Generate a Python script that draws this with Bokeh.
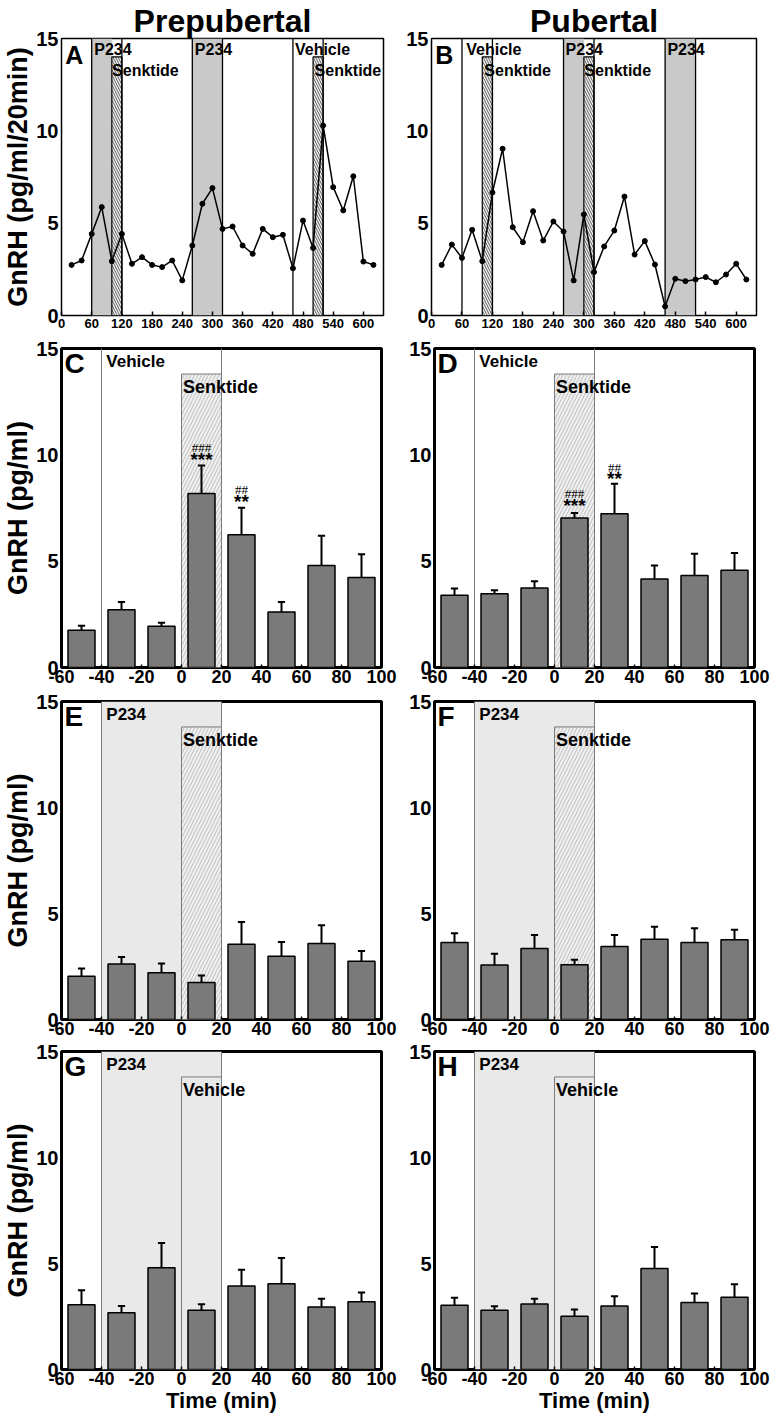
from bokeh.plotting import figure
from bokeh.layouts import column, row
from bokeh.models import FixedTicker, Range1d
from bokeh.core.properties import value
from bokeh.embed import file_html
from bokeh.resources import INLINE

FONT = "Liberation Sans"

# ---------------- data ----------------
time_course = [20, 40, 60, 80, 100, 120, 140, 160, 180, 200, 220, 240, 260, 280, 300, 320,
               340, 360, 380, 400, 420, 440, 460, 480, 500, 520, 540, 560, 580, 600, 620]
gnrh_prepubertal = [2.74, 2.98, 4.42, 5.87, 2.94, 4.42, 2.80, 3.16, 2.74, 2.62, 2.98, 1.90,
                    3.79, 6.05, 6.90, 4.69, 4.82, 3.79, 3.34, 4.69, 4.24, 4.37, 2.56, 5.14,
                    3.66, 10.29, 6.95, 5.69, 7.54, 2.92, 2.74]
gnrh_pubertal = [2.74, 3.84, 3.12, 4.64, 2.94, 6.66, 9.03, 4.78, 3.97, 5.65, 4.06, 5.09,
                 4.55, 1.90, 5.47, 2.35, 3.74, 4.60, 6.44, 3.30, 4.03, 2.76, 0.49, 1.99,
                 1.86, 1.95, 2.08, 1.80, 2.22, 2.80, 1.95]
time_ticks_a = [0, 60, 120, 180, 240, 300, 360, 420, 480, 540, 600]

bar_time = [-50, -30, -10, 10, 30, 50, 70, 90]
time_ticks_bar = [-60, -40, -20, 0, 20, 40, 60, 80, 100]
y_ticks = [0, 5, 10, 15]

c_mean = [1.75, 2.72, 1.94, 8.18, 6.24, 2.61, 4.80, 4.23]
c_sem = [0.21, 0.36, 0.16, 1.32, 1.27, 0.47, 1.40, 1.09]
d_mean = [3.40, 3.47, 3.74, 7.03, 7.23, 4.16, 4.33, 4.57]
d_sem = [0.31, 0.16, 0.31, 0.23, 1.41, 0.64, 1.02, 0.81]
e_mean = [2.04, 2.62, 2.20, 1.74, 3.55, 2.98, 3.58, 2.75]
e_sem = [0.36, 0.33, 0.44, 0.33, 1.05, 0.68, 0.86, 0.48]
f_mean = [3.63, 2.57, 3.35, 2.58, 3.44, 3.79, 3.63, 3.76]
f_sem = [0.44, 0.53, 0.64, 0.24, 0.55, 0.59, 0.67, 0.47]
g_mean = [3.06, 2.68, 4.80, 2.79, 3.94, 4.05, 2.95, 3.19]
g_sem = [0.68, 0.32, 1.17, 0.29, 0.77, 1.21, 0.39, 0.44]
h_mean = [3.03, 2.79, 3.09, 2.51, 3.00, 4.77, 3.16, 3.41]
h_sem = [0.35, 0.19, 0.25, 0.32, 0.45, 1.01, 0.42, 0.61]

# treatment windows (time-course panels)
a_gray = [(60, 100), (260, 320)]
a_hatch = [(100, 120), (500, 520)]
a_lines = [60, 120, 260, 320, 460, 520]
a_labels = [("P234", 65, 14.4), ("Senktide", 100.5, 13.27), ("P234", 265, 14.4),
            ("Vehicle", 464, 14.4), ("Senktide", 503, 13.27)]
b_gray = [(260, 300), (460, 520)]
b_hatch = [(100, 120), (300, 320)]
b_lines = [60, 120, 260, 320, 460, 520]
b_labels = [("Vehicle", 68.5, 14.4), ("Senktide", 104, 13.27), ("P234", 264, 14.4),
            ("Senktide", 301, 13.27), ("P234", 464.5, 14.4)]


def base_fig(w, h, bl, br, bt, bb, xr, yr, outline_w):
    p = figure(width=w, height=h, x_range=Range1d(*xr), y_range=Range1d(*yr),
               output_backend="svg", toolbar_location=None,
               min_border_left=bl, min_border_right=br, min_border_top=bt, min_border_bottom=bb)
    p.grid.visible = False
    p.outline_line_color = "black"
    p.outline_line_width = outline_w
    p.outline_line_alpha = 1
    for ax in (p.xaxis, p.yaxis):
        ax.axis_line_color = None
        ax.minor_tick_line_color = None
        ax.major_label_text_font = FONT
        ax.major_label_text_font_style = "bold"
        ax.major_label_text_color = "black"
        ax.axis_label_text_font = FONT
        ax.axis_label_text_font_style = "bold"
        ax.axis_label_text_color = "black"
    p.yaxis.ticker = FixedTicker(ticks=y_ticks)
    p.yaxis.major_tick_in = 0
    p.yaxis.major_tick_out = 0
    p.yaxis.major_label_text_font_size = "20px"
    p.yaxis.major_label_standoff = 3
    p.xaxis.major_tick_out = 0
    p.xaxis.major_tick_line_color = "black"
    p.xaxis.major_tick_line_width = 1.5
    return p


def add_texts(p, texts, size):
    p.text(x=[t[1] for t in texts], y=[t[2] for t in texts], text=[t[0] for t in texts],
           text_font=value(FONT), text_font_style="bold", text_font_size=size,
           text_baseline="middle", text_align="left", text_color="black")


def set_ylabel(p, text):
    p.yaxis.axis_label = text
    p.yaxis.axis_label_text_font_size = "27px"
    p.yaxis.axis_label_standoff = 0


def set_title(p, text):
    p.title.text = text
    p.title.align = "center"
    p.title.text_font = FONT
    p.title.text_font_style = "bold"
    p.title.text_font_size = "32px"
    p.title.text_color = "black"
    p.title.standoff = 0


def time_course_fig(series, gray, hatch, lines, labels, letter, left):
    if left:
        p = base_fig(400, 338, 60, 17, 38, 23, (0, 640), (0, 15), 1.5)
    else:
        p = base_fig(371, 338, 31, 15, 38, 23, (0, 640), (0, 15), 1.5)
    p.xaxis.ticker = FixedTicker(ticks=time_ticks_a)
    p.xaxis.major_label_text_font_size = "13px"
    p.xaxis.major_label_standoff = 3
    p.xaxis.major_tick_in = 4
    p.quad(left=[g[0] for g in gray], right=[g[1] for g in gray], bottom=0, top=15,
           fill_color="#c9c9c9", line_color=None)
    p.quad(left=[g[0] for g in hatch], right=[g[1] for g in hatch], bottom=0, top=14,
           fill_color="#f4f4f4", hatch_pattern="\\", hatch_color="#333333",
           hatch_scale=5, hatch_weight=0.8, line_color="black", line_width=1.2)
    p.segment(x0=lines, y0=0, x1=lines, y1=15, line_color="black", line_width=1.3)
    p.line(time_course, series, line_color="black", line_width=1.5)
    p.scatter(time_course, series, size=5, fill_color="black", line_color="black")
    add_texts(p, labels, "16px")
    add_texts(p, [(letter, 7.5, 14.1)], "25px")
    return p


def bar_fig(mean, sem, letter, left, p234, second, stars, row_kind):
    if row_kind == 2:
        h, bb = 353, 24
    elif row_kind == 3:
        h, bb = 350, 22
    else:
        h, bb = 378, 50
    if left:
        p = base_fig(400, h, 60, 19, 10, bb, (-60, 100), (0, 15), 3)
    else:
        p = base_fig(371, h, 34, 17, 10, bb, (-60, 100), (0, 15), 3)
    p.xaxis.ticker = FixedTicker(ticks=time_ticks_bar)
    p.xaxis.major_label_overrides = {t: str(t) for t in time_ticks_bar}
    p.xaxis.major_label_text_font_size = "18px"
    p.xaxis.major_label_standoff = 2
    p.xaxis.major_tick_in = 3
    if p234:
        p.quad(left=-40, right=20, bottom=0, top=15, fill_color="#e9e9e9", line_color=None)
    if second == "Senktide":
        p.quad(left=0, right=20, bottom=0, top=13.8, fill_color="#f0f0f0", hatch_pattern="/",
               hatch_color="#b0b0b0", hatch_scale=7, hatch_weight=0.8,
               line_color="#7a7a7a", line_width=1)
    else:
        p.quad(left=0, right=20, bottom=0, top=13.8, fill_color=None,
               line_color="#7a7a7a", line_width=1)
    p.segment(x0=[-40, 20], y0=0, x1=[-40, 20], y1=15, line_color="#7a7a7a", line_width=1)
    upper = [m + s for m, s in zip(mean, sem)]
    p.vbar(x=bar_time, top=mean, width=13.5, bottom=0, fill_color="#7a7a7a",
           line_color="black", line_width=1.5)
    p.segment(x0=bar_time, y0=mean, x1=bar_time, y1=upper, line_color="black", line_width=2)
    p.segment(x0=[t - 1.8 for t in bar_time], y0=upper, x1=[t + 1.8 for t in bar_time],
              y1=upper, line_color="black", line_width=2)
    first = "P234" if p234 else "Vehicle"
    add_texts(p, [(first, -37.6, 14.4)], "17px")
    add_texts(p, [(second, 0.8, 13.2)], "18px")
    add_texts(p, [(letter, -58.5, 14.3)], "28px")
    for (x, y_hash, hashes, y_star, st) in stars:
        p.text(x=[x], y=[y_hash], text=[hashes], text_font=value("Liberation Serif"),
               text_font_size="13px", text_align="center", text_baseline="middle",
               text_color="black")
        p.text(x=[x], y=[y_star], text=[st], text_font=value(FONT), text_font_style="bold",
               text_font_size="19px", text_align="center", text_baseline="middle",
               text_color="black")
    return p


pA = time_course_fig(gnrh_prepubertal, a_gray, a_hatch, a_lines, a_labels, "A", True)
pB = time_course_fig(gnrh_pubertal, b_gray, b_hatch, b_lines, b_labels, "B", False)
set_title(pA, "Prepubertal")
set_title(pB, "Pubertal")
set_ylabel(pA, "GnRH (pg/ml/20min)")

pC = bar_fig(c_mean, c_sem, "C", True, False, "Senktide",
             [(10, 10.35, "###", 9.8, "***"), (30, 8.35, "##", 7.82, "**")], 2)
pD = bar_fig(d_mean, d_sem, "D", False, False, "Senktide",
             [(10, 8.17, "###", 7.63, "***"), (30, 9.42, "##", 8.9, "**")], 2)
pE = bar_fig(e_mean, e_sem, "E", True, True, "Senktide", [], 3)
pF = bar_fig(f_mean, f_sem, "F", False, True, "Senktide", [], 3)
pG = bar_fig(g_mean, g_sem, "G", True, True, "Vehicle", [], 4)
pH = bar_fig(h_mean, h_sem, "H", False, True, "Vehicle", [], 4)

for p in (pC, pE, pG):
    set_ylabel(p, "GnRH (pg/ml)")
for p in (pG, pH):
    p.xaxis.axis_label = "Time (min)"
    p.xaxis.axis_label_text_font_size = "22px"
    p.xaxis.axis_label_standoff = 0

layout = column(row(pA, pB), row(pC, pD), row(pE, pF), row(pG, pH))
open("out.html", "w").write(file_html(layout, INLINE))
